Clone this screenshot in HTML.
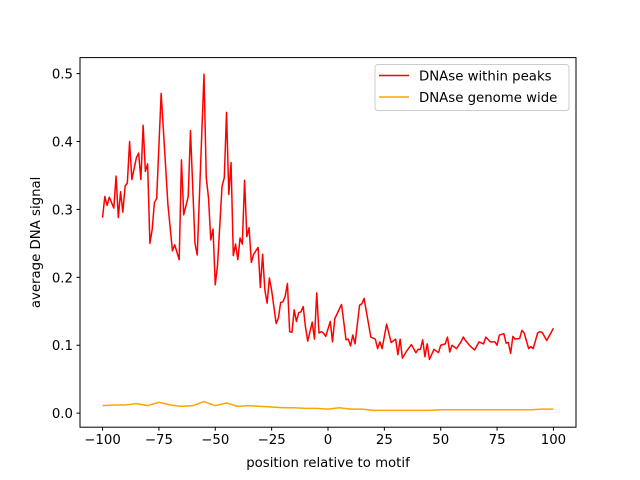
<!DOCTYPE html>
<html><head><meta charset="utf-8"><style>
body{margin:0;background:#fff;}
svg{display:block;font-family:"DejaVu Sans","Liberation Sans",sans-serif;}
</style></head><body>
<svg id="chart" width="640" height="480" viewBox="0 0 640 480" xmlns="http://www.w3.org/2000/svg">
<rect width="640" height="480" fill="#fff"/>
<g id="plot"></g>
<rect x="80" y="57.6" width="496" height="369.6" fill="none" stroke="#000" stroke-width="1"/>
<g id="xticks"></g><g id="yticks"></g>
<text x="328" y="467" font-size="13.3" text-anchor="middle">position relative to motif</text>
<text transform="translate(40,242.4) rotate(-90)" font-size="13.3" text-anchor="middle">average DNA signal</text>
<g>
<rect x="375" y="64.5" width="194" height="46" rx="3" fill="#fff" fill-opacity="0.8" stroke="#ccc"/>
<line x1="379" y1="75.5" x2="409" y2="75.5" stroke="#ff0000" stroke-width="1.5"/>
<text x="419" y="80.5" font-size="13.3">DNAse within peaks</text>
<line x1="379" y1="97" x2="409" y2="97" stroke="#ffa500" stroke-width="1.5"/>
<text x="419" y="102" font-size="13.3">DNAse genome wide</text>
</g>
</svg>
<script>
const redX=[-100,-99,-98,-97,-95,-94,-93,-92,-91,-90,-89,-88,-87,-85,-84,-83,-82,-81,-80,-79,-78,-77,-76,-74,-71,-69,-68,-66,-65,-64,-62,-61,-59,-58,-55,-54,-53,-52,-51,-50,-49,-47,-46,-45,-44,-43,-42,-41,-40,-39,-38,-37,-36,-35,-34,-33,-31,-30,-29,-28,-27,-26,-25,-23,-22,-21,-20,-19,-18,-17,-16,-15,-14,-13,-12,-11,-10,-9,-8,-7,-6,-5,-4,-3,-2,-1,1,2,3,5,6,8,9,10,11,12,14,15,16,19,21,22,23,24,26,28,30,31,32,33,35,37,39,40,41,42,43,44,45,47,49,50,52,53,54,55,57,59,60,61,63,65,67,69,70,72,74,75,76,78,79,80,81,82,83,85,86,87,89,90,91,93,94,95,97,98,100];
const redY=[0.288,0.319,0.306,0.318,0.302,0.349,0.288,0.326,0.296,0.334,0.339,0.40,0.344,0.376,0.383,0.344,0.424,0.356,0.367,0.25,0.27,0.31,0.316,0.471,0.307,0.239,0.248,0.226,0.373,0.292,0.319,0.416,0.25,0.233,0.499,0.347,0.317,0.255,0.271,0.189,0.218,0.334,0.347,0.443,0.322,0.369,0.232,0.249,0.226,0.258,0.249,0.343,0.26,0.273,0.222,0.234,0.244,0.185,0.234,0.181,0.162,0.199,0.181,0.132,0.14,0.163,0.164,0.172,0.191,0.12,0.119,0.152,0.135,0.148,0.149,0.157,0.127,0.106,0.12,0.134,0.109,0.177,0.118,0.12,0.118,0.113,0.135,0.105,0.139,0.153,0.16,0.108,0.109,0.099,0.115,0.102,0.159,0.161,0.169,0.112,0.109,0.095,0.105,0.095,0.131,0.104,0.109,0.086,0.109,0.081,0.092,0.101,0.089,0.094,0.094,0.108,0.083,0.102,0.079,0.094,0.089,0.1,0.102,0.112,0.09,0.1,0.095,0.105,0.112,0.107,0.099,0.093,0.105,0.102,0.112,0.105,0.105,0.1,0.115,0.117,0.103,0.104,0.088,0.113,0.109,0.11,0.122,0.118,0.095,0.098,0.095,0.118,0.12,0.119,0.107,0.113,0.125];
const orangeX=[-100,-95,-90,-85,-80,-75,-70,-65,-60,-55,-50,-45,-40,-35,-30,-25,-20,-15,-10,-5,0,5,10,15,20,25,30,35,40,45,50,55,60,65,70,75,80,85,90,95,100];
const orangeY=[0.011,0.012,0.012,0.014,0.011,0.016,0.012,0.010,0.011,0.017,0.011,0.015,0.010,0.011,0.010,0.009,0.008,0.008,0.007,0.007,0.006,0.008,0.006,0.006,0.004,0.004,0.004,0.004,0.004,0.004,0.005,0.005,0.005,0.005,0.005,0.005,0.005,0.005,0.005,0.006,0.006];
const xTicks=[-100,-75,-50,-25,0,25,50,75,100];
const yTicks=[0.0,0.1,0.2,0.3,0.4,0.5];
const L=80,R=576,T=57.6,B=427.2,xmin=-110,xmax=110,ymin=-0.0207,ymax=0.5236;
const sx=v=>L+(v-xmin)/(xmax-xmin)*(R-L);
const sy=v=>B-(v-ymin)/(ymax-ymin)*(B-T);
const NS="http://www.w3.org/2000/svg";
function mk(t,a){const e=document.createElementNS(NS,t);for(const k in a)e.setAttribute(k,a[k]);return e;}
const plot=document.getElementById('plot');
const pr=mk('polyline',{points:redX.map((x,i)=>sx(x)+','+sy(redY[i])).join(' '),fill:'none',stroke:'#ff0000','stroke-width':1.5,'stroke-linejoin':'round'});


const po=mk('polyline',{points:orangeX.map((x,i)=>sx(x)+','+sy(orangeY[i])).join(' '),fill:'none',stroke:'#ffa500','stroke-width':1.5,'stroke-linejoin':'round'});


plot.appendChild(po);plot.appendChild(pr);
const xg=document.getElementById('xticks');
xTicks.forEach(v=>{const x=sx(v);
const l=mk('line',{x1:x,y1:B,x2:x,y2:B+3.5,stroke:'#000'});


xg.appendChild(l);
const t=mk('text',{x:x,y:B+17,'font-size':13.3,'text-anchor':'middle'});t.textContent=(v<0?'\u2212'+(-v):v);


xg.appendChild(t);});
const yg=document.getElementById('yticks');
yTicks.forEach(v=>{const y=sy(v);
const l=mk('line',{x1:L-3.5,y1:y,x2:L,y2:y,stroke:'#000'});


yg.appendChild(l);
const t=mk('text',{x:L-7,y:y+5,'font-size':13.3,'text-anchor':'end'});t.textContent=v.toFixed(1);


yg.appendChild(t);});
</script>
</body></html>
